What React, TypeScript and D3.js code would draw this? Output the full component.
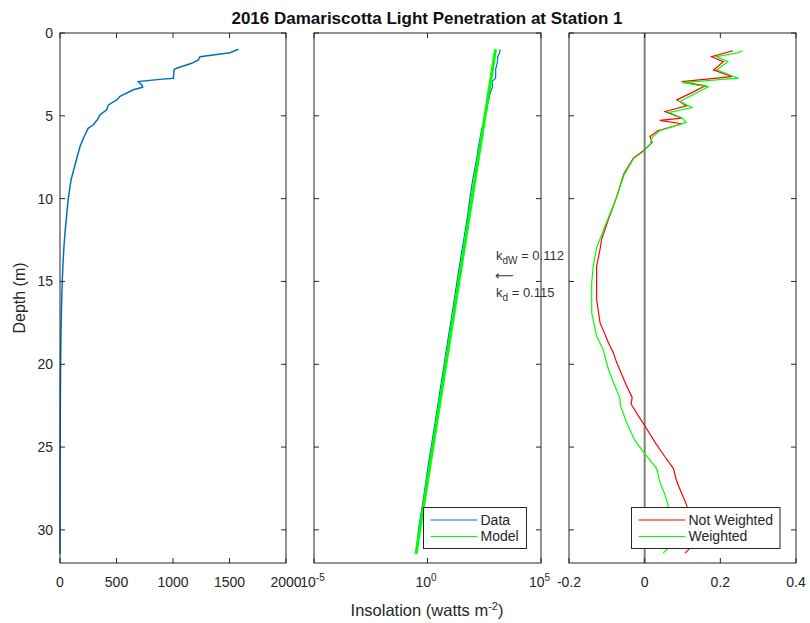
import React from 'react';
import * as d3 from 'd3';

// ---- Data --------------------------------------------------------------
// Measured downwelling insolation profile (depth in m, insolation in W m^-2)
const profileDepth = [
  0.98, 1.19, 1.43, 1.63, 1.83, 2.13, 2.2, 2.73, 2.8, 2.93, 3.13, 3.27, 3.43,
  3.83, 4.04, 4.34, 4.64, 4.94, 5.24, 5.54, 5.74, 6.14, 6.85, 7.65, 8.86,
  10.06, 11, 12, 13, 14, 15, 16, 17, 18, 20, 22, 24, 26, 28, 30, 31.45,
];
const profileIrr = [
  1578, 1504, 1239, 1224, 1165, 1032, 1010, 1003, 885, 693, 723, 732, 649,
  531, 502, 428, 413, 354, 330, 295, 251, 221, 177, 145, 98,
  72, 59, 45, 34, 26, 20, 15.5, 12, 9.1, 5.4, 3.2, 1.9, 1.1, 0.68, 0.4, 0.32,
];

// Fitted attenuation coefficients (log10 units per metre)
const kdW = 0.112;
const kd = 0.115;
const modelSurfaceLog10 = 3.11;
const modelDepth = [0.98, 31.45];

// Fit residuals versus depth
const notWeightedDepth = [
  1.07, 1.43, 1.73, 2.23, 2.63, 2.93, 3.19, 3.6, 4.04, 4.4, 4.74, 5.14, 5.28,
  5.48, 5.9, 6.25, 6.6, 7.05, 7.55, 8.5, 9.96, 11.27, 12.47, 13.07, 14.08,
  15.08, 16.08, 17.49, 18.69, 19.3, 19.9, 21.3, 22.0, 22.4, 23.1, 23.7, 24.7,
  25.6, 26.3, 27.1, 27.8, 28.5, 29.3, 30.2, 31.1, 31.4,
];
const notWeightedRes = [
  0.233, 0.177, 0.208, 0.182, 0.23, 0.098, 0.16, 0.125, 0.085, 0.111, 0.054,
  0.098, 0.04, 0.098, 0.035, 0.014, 0.02, 0.0, -0.03, -0.055, -0.075, -0.096,
  -0.114, -0.118, -0.127, -0.127, -0.127, -0.118, -0.096, -0.083, -0.074,
  -0.048, -0.033, -0.036, -0.017, 0.0, 0.027, 0.054, 0.076, 0.085, 0.098, 0.111,
  0.115, 0.118, 0.12, 0.107,
];
const weightedDepth = [
  1.07, 1.2, 1.43, 1.73, 2.23, 2.73, 3.0, 3.25, 3.7, 4.14, 4.5, 4.8, 5.15, 5.4,
  5.9, 6.3, 6.7, 7.15, 7.6, 8.6, 9.96, 11.67, 12.97, 14.08, 15.08, 16.9, 18.3,
  19.1, 20.3, 21.3, 22.0, 22.5, 23.5, 24.6, 25.4, 26.3, 27.1, 27.9, 28.5, 29.5,
  30.5, 31.1, 31.4,
];
const weightedRes = [
  0.259, 0.245, 0.19, 0.22, 0.19, 0.248, 0.1, 0.168, 0.13, 0.093, 0.125, 0.065,
  0.1, 0.11, 0.04, 0.02, 0.015, -0.003, -0.03, -0.055, -0.075, -0.105, -0.127,
  -0.136, -0.14, -0.14, -0.127, -0.11, -0.096, -0.079, -0.066, -0.064, -0.048,
  -0.026, 0.0, 0.032, 0.04, 0.054, 0.062, 0.064, 0.066, 0.062, 0.049,
];

// Tick values and labels
const depthTicks = [0, 5, 10, 15, 20, 25, 30];
const irrTicks = [0, 500, 1000, 1500, 2000];
const logTicks = [1e-5, 1, 1e5];
const logTickExponents = ['-5', '0', '5'];
const resTicks = [-0.2, 0, 0.2, 0.4];
const resTickLabels = ['-0.2', '0', '0.2', '0.4'];

// ---- Layout ------------------------------------------------------------
const W = 810;
const H = 623;
const TOP = 33;
const BOTTOM = 563;
const FONT = "'Liberation Sans', Arial, Helvetica, sans-serif";
const AXIS = '#262626';
const TICK = 5;

const y = d3.scaleLinear().domain([0, 32]).range([TOP, BOTTOM]);
const xLin = d3.scaleLinear().domain([0, 2000]).range([60, 286]);
const xLog = d3.scaleLog().domain([1e-5, 1e5]).range([314, 541]);
const xRes = d3.scaleLinear().domain([-0.2, 0.4]).range([569, 796]);

type Pt = [number, number];
const zip = (xs: number[], ys: number[]): Pt[] => xs.map((v, i) => [v, ys[i]]);

function Frame({ x0, x1, xTicks }: { x0: number; x1: number; xTicks: number[] }) {
  return (
    <g stroke={AXIS} strokeWidth={1} fill="none">
      <rect x={x0} y={TOP} width={x1 - x0} height={BOTTOM - TOP} />
      {depthTicks.map((d) => (
        <g key={'y' + d}>
          <line x1={x0} x2={x0 + TICK} y1={y(d)} y2={y(d)} />
          <line x1={x1} x2={x1 - TICK} y1={y(d)} y2={y(d)} />
        </g>
      ))}
      {xTicks.map((px, i) => (
        <g key={'x' + i}>
          <line x1={px} x2={px} y1={BOTTOM} y2={BOTTOM - TICK} />
          <line x1={px} x2={px} y1={TOP} y2={TOP + TICK} />
        </g>
      ))}
    </g>
  );
}

function Legend({
  x, yTop, w, items,
}: { x: number; yTop: number; w: number; items: { label: string; color: string }[] }) {
  const rowH = 16.5;
  return (
    <g>
      <rect x={x} y={yTop} width={w} height={items.length * rowH + 8} fill="white" stroke={AXIS} strokeWidth={1} />
      {items.map((it, i) => {
        const cy = yTop + 12.5 + i * rowH;
        return (
          <g key={it.label}>
            <line x1={x + 7} x2={x + 54} y1={cy} y2={cy} stroke={it.color} strokeWidth={1.2} />
            <text x={x + 57} y={cy} dy="0.35em" fontSize={14} fontFamily={FONT} fill={AXIS}>
              {it.label}
            </text>
          </g>
        );
      })}
    </g>
  );
}

export default function App() {
  const profileLin = d3
    .line<Pt>()
    .x((p) => xLin(p[1]))
    .y((p) => y(p[0]));
  const profileLog = d3
    .line<Pt>()
    .x((p) => xLog(p[1]))
    .y((p) => y(p[0]));
  const resLine = d3
    .line<Pt>()
    .x((p) => xRes(p[1]))
    .y((p) => y(p[0]));

  const profile = zip(profileDepth, profileIrr);
  const model: Pt[] = modelDepth.map((z) => [z, Math.pow(10, modelSurfaceLog10 - kd * z)]);
  const notWeighted = zip(notWeightedDepth, notWeightedRes);
  const weighted = zip(weightedDepth, weightedRes);

  const tickLabelY = 587;

  return (
    <svg
      width={W}
      height={H}
      viewBox={`0 0 ${W} ${H}`}
      style={{ position: 'absolute', left: 0, top: 0, background: 'white' }}
    >
      <rect width={W} height={H} fill="white" />

      {/* Title */}
      <text x={427} y={24} textAnchor="middle" fontSize={17} fontWeight="bold" fontFamily={FONT} fill="#111">
        2016 Damariscotta Light Penetration at Station 1
      </text>

      {/* Panel 1: linear insolation profile */}
      <path d={profileLin(profile) ?? ''} fill="none" stroke="#0072BD" strokeWidth={1.5} />
      <Frame x0={60} x1={286} xTicks={irrTicks.map((t) => xLin(t))} />
      {depthTicks.map((d) => (
        <text key={d} x={53} y={y(d)} dy="0.36em" textAnchor="end" fontSize={14} fontFamily={FONT} fill={AXIS}>
          {d}
        </text>
      ))}
      {irrTicks.map((t) => (
        <text key={t} x={xLin(t)} y={tickLabelY} textAnchor="middle" fontSize={14} fontFamily={FONT} fill={AXIS}>
          {t}
        </text>
      ))}
      <text
        transform={`translate(25,${(TOP + BOTTOM) / 2}) rotate(-90)`}
        textAnchor="middle"
        fontSize={16}
        fontFamily={FONT}
        fill={AXIS}
      >
        Depth (m)
      </text>

      {/* Panel 2: log insolation with model fit */}
      <path d={profileLog(profile) ?? ''} fill="none" stroke="#0072BD" strokeWidth={1.2} />
      <path d={profileLog(model) ?? ''} fill="none" stroke="#00FF00" strokeWidth={3} />
      <Frame x0={314} x1={541} xTicks={logTicks.map((t) => xLog(t))} />
      {logTicks.map((t, i) => (
        <text key={t} x={xLog(t) - 1.5} y={tickLabelY} textAnchor="middle" fontSize={14} fontFamily={FONT} fill={AXIS}>
          10
          <tspan dy={-6} fontSize={10}>
            {logTickExponents[i]}
          </tspan>
        </text>
      ))}
      <text x={427} y={616} textAnchor="middle" fontSize={16.5} fontFamily={FONT} fill={AXIS}>
        Insolation (watts m
        <tspan dy={-6} fontSize={11}>-2</tspan>
        <tspan dy={6}>)</tspan>
      </text>
      <Legend
        x={423.5}
        yTop={507.5}
        w={103}
        items={[
          { label: 'Data', color: '#0072BD' },
          { label: 'Model', color: '#00FF00' },
        ]}
      />

      {/* Attenuation annotation */}
      <g fontFamily={FONT} fill="#333" fontSize={13}>
        <text x={496} y={260}>
          k<tspan dy={4} fontSize={10}>dW</tspan>
          <tspan dy={-4}>{` = ${kdW.toFixed(3)}`}</tspan>
        </text>
        <text x={495} y={280} fontFamily="'DejaVu Sans', sans-serif" fontSize={13}>
          ⟵
        </text>
        <text x={496} y={297}>
          k<tspan dy={4} fontSize={10}>d</tspan>
          <tspan dy={-4}>{` = ${kd.toFixed(3)}`}</tspan>
        </text>
      </g>

      {/* Panel 3: residuals */}
      <line x1={xRes(0)} x2={xRes(0)} y1={TOP} y2={BOTTOM} stroke="#7f7f7f" strokeWidth={2} />
      <path d={resLine(notWeighted) ?? ''} fill="none" stroke="#FF0000" strokeWidth={1.2} />
      <path d={resLine(weighted) ?? ''} fill="none" stroke="#00FF00" strokeWidth={1.2} />
      <Frame x0={569} x1={796} xTicks={resTicks.map((t) => xRes(t))} />
      {resTicks.map((t, i) => (
        <text key={t} x={xRes(t)} y={tickLabelY} textAnchor="middle" fontSize={14} fontFamily={FONT} fill={AXIS}>
          {resTickLabels[i]}
        </text>
      ))}
      <Legend
        x={631.5}
        yTop={507.5}
        w={148.5}
        items={[
          { label: 'Not Weighted', color: '#FF0000' },
          { label: 'Weighted', color: '#00FF00' },
        ]}
      />
    </svg>
  );
}
